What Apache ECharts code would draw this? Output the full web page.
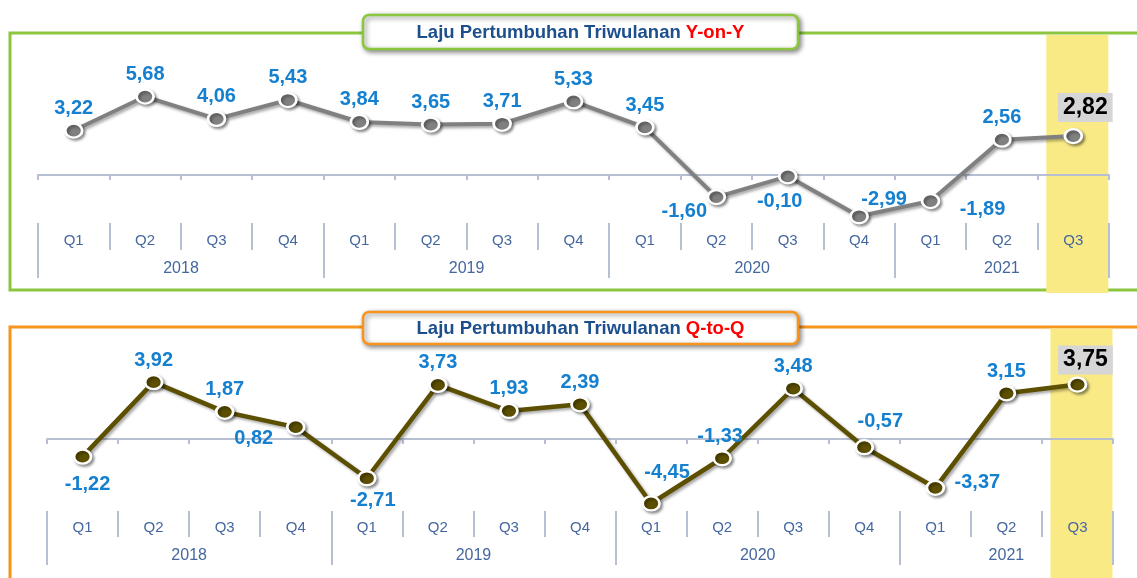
<!DOCTYPE html>
<html><head><meta charset="utf-8">
<script src="https://cdn.jsdelivr.net/npm/echarts@6/dist/echarts.min.js"></script>
<style>html,body{margin:0;padding:0;background:#fff}#c{width:1137px;height:578px}</style>
</head><body><div id="c"></div>
<script>
// ---- data ----
const quarters = ['Q1','Q2','Q3','Q4','Q1','Q2','Q3','Q4','Q1','Q2','Q3','Q4','Q1','Q2','Q3'];
const quarterYears = ['2018','2018','2018','2018','2019','2019','2019','2019','2020','2020','2020','2020','2021','2021','2021'];
const yoyValues = [3.22, 5.68, 4.06, 5.43, 3.84, 3.65, 3.71, 5.33, 3.45, -1.60, -0.10, -2.99, -1.89, 2.56, 2.82];
const qtqValues = [-1.22, 3.92, 1.87, 0.82, -2.71, 3.73, 1.93, 2.39, -4.45, -1.33, 3.48, -0.57, -3.37, 3.15, 3.75];
const highlightFlags = [0,0,0,0,0,0,0,0,0,0,0,0,0,0,1];
const titleYoY = ['Laju Pertumbuhan Triwulanan ', 'Y-on-Y'];
const titleQtQ = ['Laju Pertumbuhan Triwulanan ', 'Q-to-Q'];

// ---- label placement (style only) ----
const yoyLabelOffsets = {9:[-32,37], 10:[-8,47], 11:[25,5], 12:[52,31], 14:[12,-2]};
const qtqLabelOffsets = {0:[5,50], 3:[-42,34], 4:[6,44], 8:[16,-9], 9:[-2,0], 11:[16,-4], 12:[42,17], 14:[8,2]};

const categories = quarters.map((q, i) => quarterYears[i] + ' ' + q);
const FONT = 'Liberation Sans, Arial, sans-serif';

// year grouping derived from categories
const yearStarts = [];
const yearLabelAt = {};
let i0 = 0;
for (let i = 1; i <= quarterYears.length; i++) {
  if (i === quarterYears.length || quarterYears[i] !== quarterYears[i - 1]) {
    const n = i - i0;
    yearStarts.push(i0);
    yearLabelAt[i0 + Math.floor(n / 2)] = (n % 2 === 0) ? 'shift' : 'center';
    i0 = i;
  }
}

const fmt = v => v.toFixed(2).replace('.', ',');

function buildAxes(gi, qOffset, shortLen, longLen, qMargin, yMargin) {
  return [
    { // zero line axis
      type: 'category', gridIndex: gi, data: categories, position: 'bottom', z: 3,
      axisLine: { onZero: true, onZeroAxisIndex: gi * 2, lineStyle: { color: '#b7c0d3', width: 2 } },
      axisTick: { show: true, length: 5, interval: 0, lineStyle: { color: '#b7c0d3', width: 2 } },
      axisLabel: { show: false }, splitLine: { show: false }
    },
    { // quarter labels
      type: 'category', gridIndex: gi, data: categories, position: 'bottom', offset: qOffset, z: 3,
      axisLine: { show: false, onZero: false },
      axisTick: { show: true, length: shortLen, interval: 0, lineStyle: { color: '#b7c0d3', width: 2 } },
      axisLabel: { show: true, interval: 0, margin: qMargin, color: '#45679f', fontSize: 15, fontFamily: FONT,
        formatter: (v, idx) => quarters[idx] },
      splitLine: { show: false }
    },
    { // year labels
      type: 'category', gridIndex: gi, data: categories, position: 'bottom', offset: qOffset, z: 3,
      axisLine: { show: false, onZero: false },
      axisTick: { show: true, length: longLen, interval: (idx) => yearStarts.indexOf(idx) >= 0,
        lineStyle: { color: '#b7c0d3', width: 2 } },
      axisLabel: { show: true, margin: yMargin, interval: (idx) => yearLabelAt[idx] !== undefined,
        formatter: (v, idx) => (yearLabelAt[idx] === 'shift' ? '{s|' : '{c|') + quarterYears[idx] + '}',
        rich: {
          s: { color: '#45679f', fontSize: 16, fontFamily: FONT, padding: [0, 71, 0, 0] },
          c: { color: '#45679f', fontSize: 16, fontFamily: FONT }
        } },
      splitLine: { show: false }
    }
  ];
}

function buildLine(gi, values, offsets, color, width) {
  return {
    type: 'line', xAxisIndex: gi * 3, yAxisIndex: gi * 2, z: 5,
    data: values.map((v, i) => {
      const item = { value: v };
      const last = highlightFlags[i] === 1;
      const off = offsets[i] || [0, 0];
      item.label = last ? {
        offset: off, color: '#000', fontSize: 23, backgroundColor: '#d6d6d6', padding: [3, 5, 3, 5]
      } : { offset: off };
      return item;
    }),
    symbol: 'circle', symbolSize: [17, 14],
    lineStyle: { color: color, width: width, shadowColor: 'rgba(0,0,0,0.35)', shadowBlur: 3, shadowOffsetX: 2, shadowOffsetY: 2 },
    itemStyle: { color: color, borderColor: '#fff', borderWidth: 2.5, shadowColor: 'rgba(0,0,0,0.4)', shadowBlur: 3, shadowOffsetX: 2, shadowOffsetY: 2 },
    label: { show: true, position: 'top', distance: 4, color: '#1580d0', fontSize: 20, fontWeight: 'bold', fontFamily: FONT,
      formatter: p => fmt(p.value) },
    emphasis: { disabled: true }, animation: false
  };
}

function buildHighlight(gi) {
  return [{
    type: 'bar', xAxisIndex: gi * 3, yAxisIndex: gi * 2 + 1, z: 1, barWidth: 8, barGap: 0, silent: true,
    data: highlightFlags.map(f => f ? 1 : '-'),
    itemStyle: { color: 'rgba(0,0,0,0)' }, emphasis: { disabled: true }, animation: false
  }, {
    type: 'bar', xAxisIndex: gi * 3, yAxisIndex: gi * 2 + 1, z: 1, barWidth: 62, barGap: 0, silent: true,
    data: highlightFlags.map(f => f ? 1 : '-'),
    itemStyle: { color: '#f9ea86' }, emphasis: { disabled: true }, animation: false
  }];
}

function titleBox(y, h, stroke, parts) {
  return {
    type: 'group', z: 100, children: [
      { type: 'rect', shape: { x: 363, y: y, width: 435, height: h, r: 6 },
        style: { fill: '#fff', stroke: stroke, lineWidth: 2.5, shadowBlur: 5, shadowOffsetX: 2, shadowOffsetY: 2, shadowColor: 'rgba(0,0,0,0.45)' } },
      { type: 'text', x: 580.5, y: y + h / 2 + 1,
        style: { text: '{a|' + parts[0] + '}{b|' + parts[1] + '}', align: 'center', verticalAlign: 'middle',
          rich: {
            a: { fill: '#1d4f8c', fontSize: 18.5, fontWeight: 'bold', fontFamily: FONT },
            b: { fill: '#ff0000', fontSize: 18.5, fontWeight: 'bold', fontFamily: FONT }
          } } }
    ]
  };
}

const chart = echarts.init(document.getElementById('c'), null, { renderer: 'canvas' });
chart.setOption({
  backgroundColor: '#fff',
  animation: false,
  grid: [
    { left: 38, right: 28, top: 35, height: 258, outerBoundsMode: 'none' },
    { left: 47, right: 24, top: 328.5, bottom: 0, outerBoundsMode: 'none' }
  ],
  xAxis: buildAxes(0, -70, 27, 55, 10, 38).concat(buildAxes(1, -67, 26, 54, 9, 37)),
  yAxis: [
    { type: 'value', gridIndex: 0, min: -8.55, max: 10.14, show: false },
    { type: 'value', gridIndex: 0, min: 0, max: 1, show: false },
    { type: 'value', gridIndex: 1, min: -9.59, max: 7.62, show: false },
    { type: 'value', gridIndex: 1, min: 0, max: 1, show: false }
  ],
  graphic: [
    { type: 'rect', z: 0, shape: { x: 10, y: 33, width: 1140, height: 257 }, style: { fill: 'none', stroke: '#8cc63e', lineWidth: 3 } },
    { type: 'rect', z: 0, shape: { x: 10, y: 327, width: 1140, height: 270 }, style: { fill: 'none', stroke: '#f7941d', lineWidth: 3 } },
    titleBox(15, 34, '#8cc63e', titleYoY),
    titleBox(312, 32, '#f7941d', titleQtQ)
  ],
  series: buildHighlight(0).concat([
    buildLine(0, yoyValues, yoyLabelOffsets, '#808080', 4)
  ]).concat(buildHighlight(1)).concat([
    buildLine(1, qtqValues, qtqLabelOffsets, '#5c4f00', 4.5)
  ])
});
</script>
</body></html>
